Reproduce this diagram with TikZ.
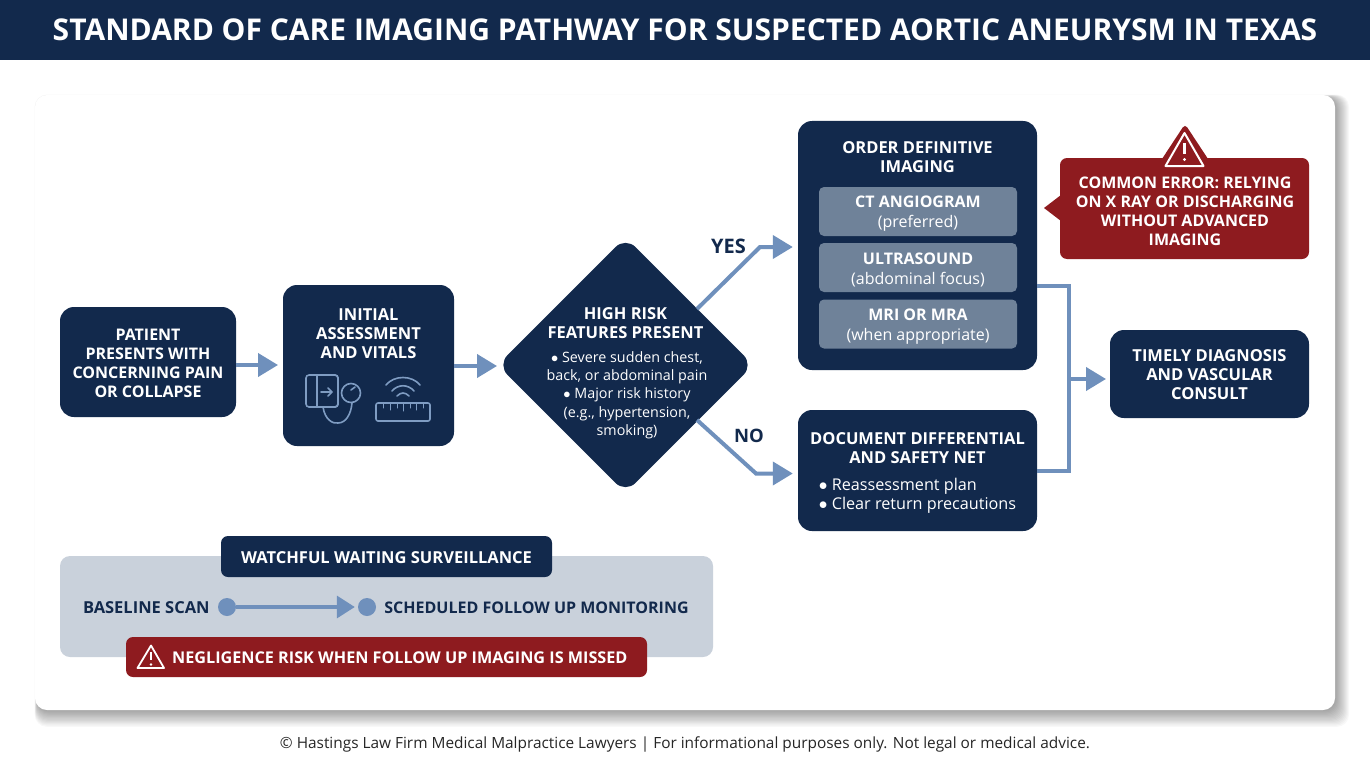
\documentclass[tikz,border=0pt]{standalone}
\usepackage{fontspec}
\setmainfont{Open Sans}
\usetikzlibrary{shapes.geometric,arrows.meta,positioning}
\definecolor{navy}{HTML}{12294C}
\definecolor{flow}{HTML}{6F90BC}
\definecolor{slate}{HTML}{6F8299}
\definecolor{alert}{HTML}{8E1B1F}
\definecolor{band}{HTML}{C9D1DB}
\definecolor{icon}{HTML}{7F9CC2}
\tikzset{
	navybox/.style={rectangle,rounded corners=14pt,fill=navy,text=white,align=center,font=\fontsize{16}{19}\selectfont\bfseries,inner sep=0pt},
	slatebox/.style={rectangle,rounded corners=5pt,fill=slate,text=white,align=center,minimum width=198pt,minimum height=49pt,inner sep=0pt,font=\fontsize{16}{19.5}\selectfont},
	redbox/.style={rectangle,rounded corners=7pt,fill=alert,text=white,align=center,font=\fontsize{16}{19}\selectfont\bfseries,inner sep=0pt},
	plain/.style={inner sep=0pt,align=center},
	flowline/.style={draw=flow,line width=4pt,-{Triangle[length=20pt,width=23pt]}},
	iconline/.style={draw=icon,line width=1.6pt,line cap=round,line join=round},
	dot/.style={circle,fill=flow,minimum size=18pt,inner sep=0pt},
}
\begin{document}
\begin{tikzpicture}[x=1pt,y=-1pt]
	\useasboundingbox (0,0) rectangle (1370,765);

	%header and panel
	\fill[white] (0,0) rectangle (1370,765);
	\fill[navy] (0,0) rectangle (1370,60.5);
	\node[plain,text=white,font=\fontsize{30}{34}\selectfont\bfseries] (title) at (685,30) {STANDARD OF CARE IMAGING PATHWAY FOR SUSPECTED AORTIC ANEURYSM IN TEXAS};
	\foreach \spread in {14,13,...,1}
		\fill[black,opacity=0.026,rounded corners=12pt] (37.5-0.2*\spread,97.5-0.2*\spread) rectangle (1335+\spread,710+1.2*\spread);
	\fill[white,rounded corners=12pt] (35,95) rectangle (1335,710);

	%main flow
	\node[navybox,minimum width=176pt,minimum height=110pt] (patient) at (148,362) {};
	\node[plain,text=white,font=\fontsize{16}{19}\selectfont\bfseries] (patienttext) at (148,363.5) {PATIENT\\PRESENTS WITH\\CONCERNING PAIN\\OR COLLAPSE};
	\node[navybox,minimum width=171pt,minimum height=161pt] (assess) at (368.5,365.5) {};
	\node[plain,text=white,font=\fontsize{16.5}{19}\selectfont\bfseries] (assesstext) at (368.5,333.5) {INITIAL\\ASSESSMENT\\AND VITALS};
	\node[diamond,aspect=1,fill=navy,minimum size=256pt,inner sep=0pt,rounded corners=14pt] (risk) at (625.5,365) {};
	\node[plain,text=white,font=\fontsize{16.5}{19}\selectfont\bfseries] (risktitle) at (625.5,323) {HIGH RISK\\FEATURES PRESENT};
	\node[plain,text=white,font=\fontsize{14.3}{18.3}\selectfont] (risktext) at (627,395) {$\bullet$ Severe sudden chest,\\back, or abdominal pain\\$\bullet$ Major risk history\\(e.g., hypertension,\\smoking)};

	\node[navybox,minimum width=239pt,minimum height=249pt] (order) at (917.5,245.5) {};
	\node[plain,text=white,font=\fontsize{16.5}{19}\selectfont\bfseries] (ordertext) at (917.5,157) {ORDER DEFINITIVE\\IMAGING};
	\node[slatebox] (cta) at (918,211.5) {};
	\node[plain,text=white,font=\fontsize{16}{19.5}\selectfont] (ctatext) at (918,213.5) {\textbf{CT ANGIOGRAM}\\(preferred)};
	\node[slatebox] (ultra) at (918,267.5) {};
	\node[plain,text=white,font=\fontsize{16}{19.5}\selectfont] (ultratext) at (918,270) {\textbf{ULTRASOUND}\\(abdominal focus)};
	\node[slatebox] (mri) at (918,324) {};
	\node[plain,text=white,font=\fontsize{16}{19.5}\selectfont] (mritext) at (918,326.5) {\textbf{MRI OR MRA}\\(when appropriate)};

	\node[navybox,minimum width=239pt,minimum height=121pt] (doc) at (917.5,470.5) {};
	\node[plain,text=white,font=\fontsize{16.5}{19}\selectfont\bfseries] (doctitle) at (917.5,448.5) {DOCUMENT DIFFERENTIAL\\AND SAFETY NET};
	\node[plain,text=white,font=\fontsize{16.2}{19.5}\selectfont,align=left] (doctext) at (917.5,496) {$\bullet$ Reassessment plan\\$\bullet$ Clear return precautions};

	\node[navybox,minimum width=199pt,minimum height=88pt] (timely) at (1209.5,374) {};
	\node[plain,text=white,font=\fontsize{16.5}{19}\selectfont\bfseries] (timelytext) at (1209.5,375) {TIMELY DIAGNOSIS\\AND VASCULAR\\CONSULT};

	%connectors
	\draw[flowline] (patient.east |- 0,365) -- (278,365);
	\coordinate (assessout) at (assess.east |- 0,366);
	\coordinate (riskin) at (497,366);
	\draw[flowline] (assessout) -- (riskin);
	\coordinate (yesfrom) at (697,309);
	\coordinate (yesto) at (order.west |- 0,247);
	\coordinate (nofrom) at (697,420);
	\coordinate (noto) at (doc.west |- 0,473.5);
	\draw[flowline] (yesfrom) -- (760,247) -- ([xshift=-5pt]yesto);
	\draw[flowline] (nofrom) -- (756,473.5) -- ([xshift=-5pt]noto);
	\node[plain,text=navy,font=\fontsize{20}{22}\selectfont\bfseries] (yes) at (728.5,246) {YES};
	\node[plain,text=navy,font=\fontsize{18.5}{22}\selectfont\bfseries] (no) at (749,436) {NO};
	\draw[draw=flow,line width=4pt] (order.east |- 0,286) -- (1069,286) -- (1069,471) -- (doc.east |- 0,471);
	\coordinate (merge) at (1069,379);
	\draw[flowline] (merge) -- (1106,379);

	%error callout
	\node[redbox,minimum width=249pt,minimum height=101pt] (error) at (1184.5,208.5) {};
	\fill[alert] (1061,195) -- (1044,208) -- (1061,221) -- cycle;
	\fill[alert,rounded corners=4pt] (1185,124) -- (1158,165) -- (1212,165) -- cycle;
	\draw[white,line width=2pt,line join=round] (1184.5,133) -- (1165.5,166) -- (1203.5,166) -- cycle;
	\draw[white,line width=3pt] (1184.5,143) -- (1184.5,154);
	\fill[white] (1184.5,159.5) circle (1.7pt);
	\node[plain,text=white,font=\fontsize{16}{19}\selectfont\bfseries] (errortext) at (1185,211) {COMMON ERROR: RELYING\\ON X RAY OR DISCHARGING\\WITHOUT ADVANCED\\IMAGING};

	%vitals icons
	\draw[iconline,rounded corners=3pt] (306,375) rectangle (338,407);
	\draw[iconline,rounded corners=3pt] (317,375) -- (338,375) -- (338,407) -- (317,407);
	\draw[iconline] (317,376) -- (317,406);
	\draw[iconline] (321,392) -- (332,392) (328,388) -- (332,392) -- (328,396);
	\draw[iconline] (351,393) circle (9.5pt);
	\draw[iconline] (351,390) -- (355,387);
	\draw[iconline] (323,407) .. controls (325,420) and (333,424) .. (338,423) .. controls (346,423) and (351,414) .. (352,403);
	\draw[iconline] (386,385) .. controls (394,375) and (412,375) .. (420,385);
	\draw[iconline] (392,391) .. controls (398,384) and (408,384) .. (414,391);
	\draw[iconline] (397,396) .. controls (401,392) and (405,392) .. (409,396);
	\draw[iconline,rounded corners=2pt] (376,403) rectangle (430,421);
	\foreach \tickx/\ticklen in {383/5,390/7,397/5,403/8,410/5,416/7,423/5}
		\draw[iconline,line width=1pt] (\tickx,403) -- (\tickx,403+\ticklen);

	%surveillance
	\node[rectangle,rounded corners=10pt,fill=band,minimum width=653pt,minimum height=101pt,inner sep=0pt] (survey) at (386.5,606.5) {};
	\node[navybox,rounded corners=7pt,minimum width=331pt,minimum height=41pt] (watch) at (386.5,556.5) {};
	\node[plain,text=white,font=\fontsize{16.5}{19}\selectfont\bfseries] (watchtext) at (386.5,557.5) {WATCHFUL WAITING SURVEILLANCE};
	\node[dot] (base) at (227,607) {};
	\node[dot] (follow) at (367,607) {};
	\node[plain,text=navy,font=\fontsize{16.5}{19}\selectfont\bfseries,left=8pt of base,yshift=-1pt] (basetext) {BASELINE SCAN};
	\node[plain,text=navy,font=\fontsize{16}{19}\selectfont\bfseries,right=8pt of follow,yshift=-1pt] (followtext) {SCHEDULED FOLLOW UP MONITORING};
	\draw[draw=flow,line width=3.5pt,shorten >=3pt,-{Triangle[length=18pt,width=22pt]}] (base) -- (follow);
	\node[redbox,minimum width=521pt,minimum height=40pt] (negl) at (386.5,657) {};
	\draw[white,line width=1.8pt,line join=round] (151,645.5) -- (137.5,668) -- (164,668) -- cycle;
	\draw[white,line width=2pt] (151,652) -- (151,660);
	\fill[white] (151,664.5) circle (1.3pt);
	\node[plain,text=white,font=\fontsize{16.2}{19}\selectfont\bfseries,anchor=west] (negltext) at (172,658) {NEGLIGENCE RISK WHEN FOLLOW UP IMAGING IS MISSED};

	%footer
	\node[plain,text=black!85,font=\fontsize{15.4}{18}\selectfont] (foot) at (685,744.5) {© Hastings Law Firm Medical Malpractice Lawyers | For informational purposes only. Not legal or medical advice.};
\end{tikzpicture}
\end{document}
